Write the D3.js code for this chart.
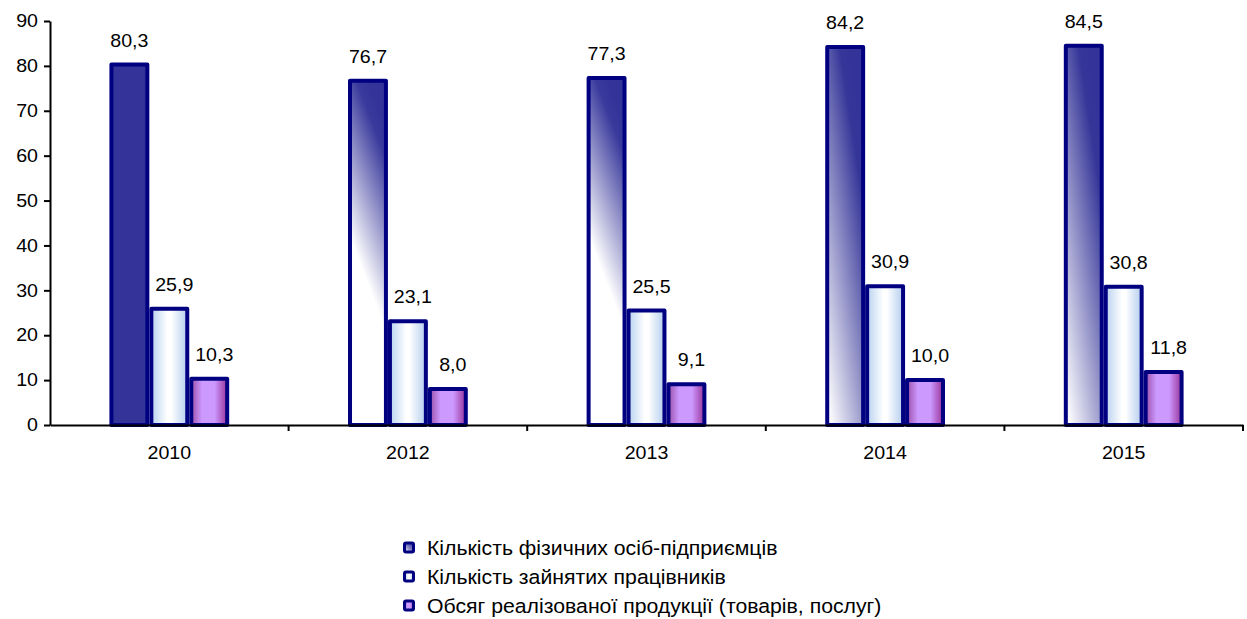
<!DOCTYPE html>
<html><head><meta charset="utf-8">
<script src="https://cdn.jsdelivr.net/npm/d3@7"></script>
<style>html,body{margin:0;padding:0;background:#fff;}svg{display:block;font-family:"Liberation Sans",Arial,sans-serif;}</style>
</head><body>
<svg id="c" width="1247" height="619"></svg>
<script>
const years = ["2010", "2012", "2013", "2014", "2015"];
const seriesNames = ["Кількість фізичних осіб-підприємців", "Кількість зайнятих працівників", "Обсяг реалізованої продукції (товарів, послуг)"];
const entrepreneurs = [80.3, 76.7, 77.3, 84.2, 84.5];
const employees = [25.9, 23.1, 25.5, 30.9, 30.8];
const salesVolume = [10.3, 8.0, 9.1, 10.0, 11.8];
const yTicks = [0, 10, 20, 30, 40, 50, 60, 70, 80, 90];

const seriesValues = [entrepreneurs, employees, salesVolume];
const SX = 1.09; // horizontal text stretch seen in the reference
const svg = d3.select("#c");
const defs = svg.append("defs");

function lin(id, x1, y1, x2, y2, stops) {
  const g = defs.append("linearGradient").attr("id", id)
    .attr("x1", x1).attr("y1", y1).attr("x2", x2).attr("y2", y2);
  stops.forEach(s => g.append("stop").attr("offset", s[0]).attr("stop-color", s[1]));
}
lin("gA", 0.5, 0, 0.35, 0.55, [[0, "#333399"], [0.15, "#3a3a9d"], [1, "#ffffff"]]);
lin("gB", 0.6, 0, 0, 0.95, [[0, "#333399"], [0.12, "#363699"], [1, "#ffffff"]]);
lin("gL", 1, 0, 0, 1, [[0, "#333399"], [0.5, "#8080c0"], [1, "#ffffff"]]);
lin("g2", 0, 0, 1, 0, [[0, "#b8d2f0"], [0.45, "#ffffff"], [0.55, "#ffffff"], [1, "#b3cdee"]]);
lin("g3", 0, 0, 1, 0, [[0, "#9b4fa8"], [0.3, "#cc99ff"], [0.65, "#cc99ff"], [1, "#993399"]]);

const x0 = d3.scaleBand().domain(years).range([50, 1243]).padding(0);
const bw = x0.bandwidth();
const x1 = d3.scaleBand().domain([0, 1, 2]).range([bw * 0.249, bw * 0.751]).padding(0);
const y = d3.scaleLinear().domain([0, 90]).range([425, 21]);

function fillFor(s, i) {
  if (s === 0) return i === 0 ? "#333399" : (i < 3 ? "url(#gA)" : "url(#gB)");
  return s === 1 ? "url(#g2)" : "url(#g3)";
}

const data = [];
years.forEach((yr, i) => seriesValues.forEach((arr, s) => data.push({yr, i, s, v: arr[i]})));

const gBars = svg.append("g");
gBars.selectAll("rect").data(data).join("rect")
  .attr("x", d => x0(d.yr) + x1(d.s) + 2)
  .attr("y", d => y(d.v))
  .attr("width", x1.bandwidth() - 4)
  .attr("height", d => y(0) - y(d.v))
  .attr("fill", d => fillFor(d.s, d.i))
  .attr("stroke", "#000080")
  .attr("stroke-width", 4)
  .attr("stroke-linejoin", "round");

svg.append("g").selectAll("text").data(data).join("text")
  .attr("transform", d => `translate(${x0(d.yr) + x1(d.s) + x1.bandwidth() / 2 + (d.s === 0 ? 0 : 5)},${y(d.v) - 18}) scale(${SX},1)`)
  .attr("text-anchor", "middle")
  .attr("font-size", 18)
  .attr("fill", "#000")
  .text(d => d.v.toFixed(1).replace(".", ","));

// Y axis
const yAxis = svg.append("g").attr("transform", "translate(50,0)")
  .call(d3.axisLeft(y).tickValues(yTicks).tickSize(6).tickPadding(6).tickSizeOuter(0));
yAxis.select(".domain").attr("stroke", "#000").attr("stroke-width", 2);
yAxis.selectAll(".tick line").attr("stroke", "#000").attr("stroke-width", 2);
yAxis.selectAll(".tick text").attr("font-size", 18).attr("font-family", "Liberation Sans, Arial, sans-serif").attr("fill", "#000")
  .attr("x", null).attr("transform", `translate(-12,0) scale(${SX},1)`);

// X axis
const xAxis = svg.append("g").attr("transform", "translate(0,425)")
  .call(d3.axisBottom(x0).tickSize(0).tickPadding(21).tickSizeOuter(0));
xAxis.select(".domain").attr("stroke", "#000").attr("stroke-width", 2);
xAxis.selectAll(".tick text").attr("font-size", 18).attr("font-family", "Liberation Sans, Arial, sans-serif").attr("fill", "#000")
  .attr("transform", `scale(${SX},1)`);
// category boundary ticks
xAxis.append("g").selectAll("line").data(years).join("line")
  .attr("x1", d => x0(d) + bw).attr("x2", d => x0(d) + bw)
  .attr("y1", 0).attr("y2", 6)
  .attr("stroke", "#000").attr("stroke-width", 2);

// Legend
const legendFills = ["url(#gL)", "url(#g2)", "url(#g3)"];
const lg = svg.append("g").selectAll("g").data(seriesNames).join("g")
  .attr("transform", (d, i) => `translate(403,${548 + i * 29})`);
lg.append("rect").attr("x", 1.5).attr("y", -5).attr("width", 9).attr("height", 9)
  .attr("rx", 1.5)
  .attr("fill", (d, i) => legendFills[i]).attr("stroke", "#000080").attr("stroke-width", 3);
lg.append("text").attr("transform", `translate(24,7) scale(${SX},1)`).attr("font-size", 19.5).attr("fill", "#000").text(d => d);
</script>
</body></html>
